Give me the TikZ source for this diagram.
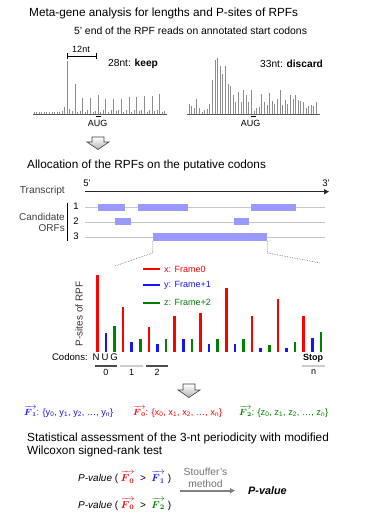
\documentclass[tikz,border=0pt]{standalone}
\usepackage{amsmath}
\usepackage{fontspec}
\setmainfont{Liberation Sans}
\usetikzlibrary{positioning,arrows.meta}

\definecolor{fzero}{RGB}{255,0,0}
\definecolor{fone}{RGB}{20,20,255}
\definecolor{ftwo}{RGB}{0,128,0}
\definecolor{orfblue}{RGB}{153,153,255}
\definecolor{histgray}{RGB}{140,140,140}

\newcommand{\fvec}[1]{\ensuremath{\overrightarrow{\boldsymbol{F}_{\boldsymbol{#1}}}}}
\newcommand{\fs}[1]{\fontsize{#1}{#1}\selectfont}

\begin{document}
\begin{tikzpicture}[x=1pt,y=-1pt,
  every node/.style={inner sep=0pt},
  title/.style={font=\fs{11.8}, anchor=west},
  lbl/.style={font=\fs{9}},
  hbar/.style={histgray, line width=0.9pt},
  orf/.style={fill=orfblue, minimum height=7pt},
  track/.style={gray!45, line width=0.8pt},
  fbar/.style={line width=2.6pt},
  legline/.style={line width=2pt},
  cbar/.style={minimum height=2.2pt},
  zoomline/.style={gray, densely dotted, line width=0.7pt},
  blockarrow/.style={draw=gray!50!black, top color=white, bottom color=gray!60, line width=0.6pt}]
\useasboundingbox (0,0) rectangle (366,518);

% meta-gene part
\node[title] (ttl1) at (29,13) {Meta-gene analysis for lengths and P-sites of RPFs};
\node[font=\fs{10.4}] (sub1) at (190.5,31) {5' end of the RPF reads on annotated start codons};

\foreach \h [count=\i from 0] in {2,2,2,2,2,2,2,2,2,2,2,3,7,53,5,3,30,2,3,16,2,4,16,2,3,19,2,4,15,2,4,15,3,4,15,2,4,17,2,4,17,3,4,18,2,4,18,3,4,20,2,3}
  \draw[hbar] ({34+2.567*\i},114) -- ++(0,-\h);
\draw[gray!70!black, line width=0.8pt] (33,114.4) -- (167,114.4);

\foreach \h [count=\i from 0] in {9.7,8.3,6.3,14.7,5.7,2.3,3.7,5,10.3,34,54,55.7,48,39.7,48,29.7,28.3,19,11.7,21.7,12.3,24,19,11.7,24,3,6.3,7,19.7,11.7,9,21,13,10.3,15,23.7,9,14,10.3,19,15,19,13.7,13,11.7,6.3,8.3,9,7.7,11.7}
  \draw[hbar] ({189+2.6*\i},114) -- ++(0,-\h);
\draw[gray!70!black, line width=0.8pt] (187,114.4) -- (320,114.4);

\coordinate (ntl) at (67,56);
\coordinate (ntr) at (97,56);
\draw[|-|, line width=0.8pt] (ntl) -- (ntr);
\node[lbl] (nt) at (81,49) {12nt};
\node[font=\fs{10.2}, anchor=west] (keep) at (108,64) {28nt: \textbf{keep}};
\node[font=\fs{10.2}, anchor=west] (discard) at (260,64) {33nt: \textbf{discard}};

\node[lbl] (aug1) at (97.5,123.5) {AUG};
\node[lbl] (aug2) at (250.5,123.5) {AUG};
\draw[line width=0.8pt] (96,116.5) -- (101,116.5);
\draw[line width=0.8pt] (251,116.5) -- (256,116.5);

\shadedraw[blockarrow] (92,137) -- (104,137) -- (104,142) -- (109,142) -- (98,149.5) -- (87,142) -- (92,142) -- cycle;

% allocation part
\node[title] (ttl2) at (27,165) {Allocation of the RPFs on the putative codons};
\node[font=\fs{9.5}] (p5) at (87,183) {5'};
\node[font=\fs{9.5}] (p3) at (326,183) {3'};
\coordinate (trs) at (85,191.7);
\coordinate (tre) at (329,191.7);
\draw[-{Triangle[length=5pt,width=5pt]}, line width=1.2pt, black!85] (trs) -- (tre);
\node[font=\fs{10.2}, anchor=east, text=black!75] (transcript) at (65,191) {Transcript};
\node[font=\fs{10}, anchor=east, align=right, text=black!75] (cand) at (65,222.5) {Candidate\\[1.5pt]ORFs};
\draw[line width=0.9pt] (67,203) -- (67,241);

\node[font=\fs{9.5}] (r1) at (76,206.5) {1};
\node[font=\fs{9.5}] (r2) at (76,221.5) {2};
\node[font=\fs{9.5}] (r3) at (76,236.5) {3};
\draw[track] (85,207.5) -- (325,207.5);
\draw[track] (85,222) -- (325,222);
\draw[track] (85,237) -- (325,237);

\node[orf, minimum width=27pt] (orf1a) at (111.8,207.5) {};
\node[orf, minimum width=50pt] (orf1b) at (163,207.5) {};
\node[orf, minimum width=45pt] (orf1c) at (273.5,207.5) {};
\node[orf, minimum width=16pt] (orf2a) at (123,222) {};
\node[orf, minimum width=15pt] (orf2b) at (241.5,222) {};
\node[orf, minimum width=114pt, minimum height=7.4pt] (orf3) at (210,237) {};

\coordinate (zl) at (115,266);
\coordinate (zr) at (320,263);
\draw[zoomline] (orf3.south west) -- ++(0,12) -- (zl);
\draw[zoomline] (orf3.south east) -- ++(0,12) -- (zr);

% legend
\node[lbl, anchor=west, text=fzero] (legx) at (164,269.3) {x: Frame0};
\node[lbl, anchor=west, text=fone] (legy) at (164,285.3) {y: Frame+1};
\node[lbl, anchor=west, text=ftwo] (legz) at (164,302.7) {z: Frame+2};
\draw[legline, fzero] ([xshift=-4pt]legx.west) -- ++(-17,0);
\draw[legline, fone] ([xshift=-4pt]legy.west) -- ++(-17,0);
\draw[legline, ftwo] ([xshift=-4pt]legz.west) -- ++(-17,0);

\node[font=\fs{10}, rotate=90, text=black!80] (ylab) at (79,314) {P-sites of RPF};

% frame bars
\foreach \h [count=\i from 0] in {76.7,45,25,35.4,38.4,63.4,35.4,52.7,35.4}
  \draw[fbar, fzero] ({97.3+25.8*\i},351.7) -- ++(0,-\h);
\foreach \h [count=\i from 0] in {19,9.7,8,12.4,8,8,4,4,13.4}
  \draw[fbar, fone] ({105.9+25.8*\i},351.7) -- ++(0,-\h);
\foreach \h [count=\i from 0] in {26,12.4,12.4,13,13,13,6.4,9.7,19.4}
  \draw[fbar, ftwo] ({114.5+25.8*\i},351.7) -- ++(0,-\h);

\node[font=\fs{9.6}, anchor=east] (codons) at (88,357.5) {Codons:};
\node[font=\fs{9.6}] (cn) at (96,357.5) {N};
\node[font=\fs{9.6}] (cu) at (105,357.5) {U};
\node[font=\fs{9.6}] (cg) at (114,357.5) {G};
\node[font=\fs{9}\bfseries] (stop) at (313,358) {Stop};

\node[cbar, fill=black!70, minimum width=22pt] (c0) at (106,365.7) {};
\node[cbar, fill=black!20, minimum width=23pt] (c1) at (131.5,365.7) {};
\node[cbar, fill=black!70, minimum width=22pt] (c2) at (157,365.7) {};
\node[cbar, fill=black!20, minimum width=23pt] (cbn) at (313.5,365.7) {};
\node[lbl, below=2.5pt of c0] (l0) {0};
\node[lbl, below=2.5pt of c1] (l1) {1};
\node[lbl, below=2.5pt of c2] (l2) {2};
\node[lbl, below=2.5pt of cbn] (ln) {n};

\shadedraw[blockarrow] (183,384) -- (195,384) -- (195,390) -- (200,390) -- (189,397.5) -- (178,390) -- (183,390) -- cycle;

% frame vectors
\node[font=\fs{9.2}, anchor=west, text=fone] (setf1) at (24,411.7) {\fvec1: \{y\textsubscript{0}, y\textsubscript{1}, y\textsubscript{2}, …, y\textsubscript{n}\}};
\node[font=\fs{9.2}, anchor=west, text=fzero] (setf0) at (133,411.7) {\fvec0: \{x\textsubscript{0}, x\textsubscript{1}, x\textsubscript{2}, …, x\textsubscript{n}\}};
\node[font=\fs{9.2}, anchor=west, text=ftwo] (setf2) at (239,411.7) {\fvec2: \{z\textsubscript{0}, z\textsubscript{1}, z\textsubscript{2}, …, z\textsubscript{n}\}};

% statistics
\node[title, align=left] (ttl3) at (27,445.3) {Statistical assessment of the 3-nt periodicity with modified\\[1pt]Wilcoxon signed-rank test};

\node[font=\fs{10}, anchor=west] (pv1) at (78,477.3) {\textit{P-value} ( \textcolor{fzero}{\fvec0} \ > \ \textcolor{fone}{\fvec1} )};
\node[font=\fs{10}, anchor=west] (pv2) at (78,504) {\textit{P-value} ( \textcolor{fzero}{\fvec0} \ > \ \textcolor{ftwo}{\fvec2} )};
\node[font=\fs{10.3}, text=black!55, align=center] (stouffer) at (205.5,478) {Stouffer's\\[1.5pt]method};
\node[font=\fs{10.8}\bfseries\itshape, anchor=west] (pval) at (248,490.7) {P-value};
\coordinate (sa) at (180,490.7);
\draw[-{Triangle[length=5pt,width=5pt]}, gray, line width=1.6pt] (sa) -- ([xshift=-13pt]pval.west);
\end{tikzpicture}
\end{document}
